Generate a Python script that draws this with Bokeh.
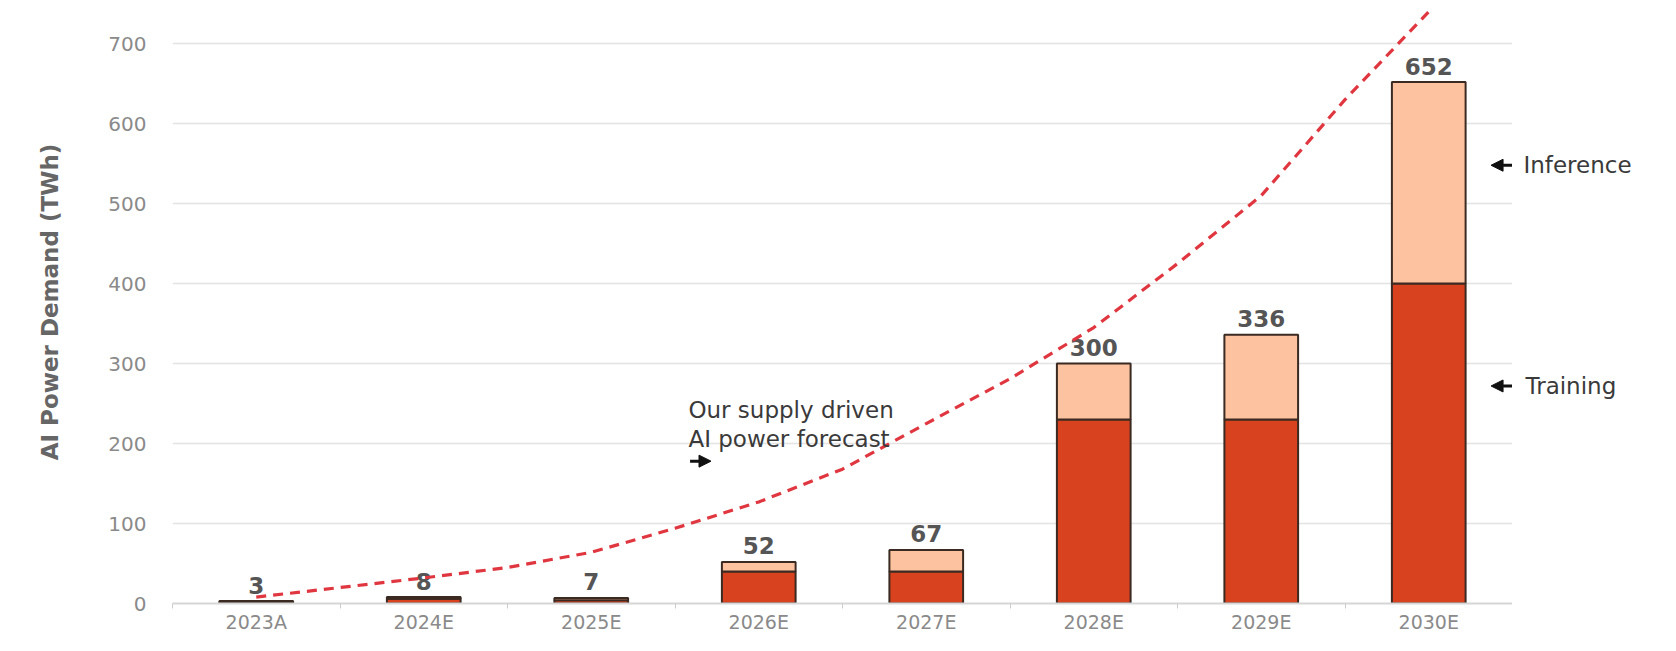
from bokeh.plotting import figure
from bokeh.layouts import row
from bokeh.models import ColumnDataSource, FixedTicker, Range1d, Label, Arrow, NormalHead
from bokeh.embed import file_html
from bokeh.resources import INLINE
from bokeh.core.properties import value

# ---- data ----
categories = ["2023A", "2024E", "2025E", "2026E", "2027E", "2028E", "2029E", "2030E"]
training = [2, 6, 4, 40, 40, 230, 230, 400]
inference = [1, 2, 3, 12, 27, 70, 106, 252]
totals = [3, 8, 7, 52, 67, 300, 336, 652]

# supply-driven forecast curve, read at every half year
forecast_pos = [0, 0.5, 1, 1.5, 2, 2.5, 3, 3.5, 4, 4.5, 5, 5.5, 6, 6.5, 7]
forecast_twh = [8, 20, 32, 45, 64, 94, 127, 168, 225, 281, 345, 425, 510, 630, 740]

y_ticks = [0, 100, 200, 300, 400, 500, 600, 700]

FONT = "DejaVu Sans"
TRAIN_COLOR = "#D8421F"
INFER_COLOR = "#FDC3A0"
EDGE = "#3a2a22"
H = 635
BOTTOM = 31

idx = list(range(len(categories)))
src = ColumnDataSource(dict(
    x=idx,
    training=training,
    total=[t + i for t, i in zip(training, inference)],
    label_y=totals,
    label=[str(v) for v in totals],
))

yr = Range1d(0, 754)
p = figure(width=1512, height=H, output_backend="svg", toolbar_location=None,
           x_range=Range1d(-0.5, 7.5), y_range=yr,
           min_border_left=172, min_border_right=0, min_border_top=0,
           min_border_bottom=BOTTOM)
p.outline_line_color = None

# bars
p.vbar(x="x", width=0.44, bottom=0, top="training", source=src,
       fill_color=TRAIN_COLOR, line_color=EDGE, line_width=2)
p.vbar(x="x", width=0.44, bottom="training", top="total", source=src,
       fill_color=INFER_COLOR, line_color=EDGE, line_width=2)

# totals
p.text(x="x", y="label_y", text="label", source=src,
       text_font=value(FONT), text_font_style="bold", text_font_size="23px",
       text_color="#555555", text_align="center", text_baseline="alphabetic",
       y_offset=-16)

# forecast curve
p.line(forecast_pos, forecast_twh, line_color="#E0363F", line_width=3.2,
       line_dash="10 7")

# axes
p.xgrid.grid_line_color = None
p.ygrid.grid_line_color = "#e3e3e3"
p.ygrid.grid_line_width = 1.5

p.xaxis.ticker = FixedTicker(ticks=idx, minor_ticks=[i - 0.5 for i in range(len(categories) + 1)])
p.xaxis.major_label_overrides = {i: c for i, c in enumerate(categories)}
p.xaxis.axis_line_color = "#d6d6d6"
p.xaxis.axis_line_width = 2
p.xaxis.major_tick_line_color = None
p.xaxis.major_tick_out = 0
p.xaxis.major_tick_in = 0
p.xaxis.minor_tick_line_color = "#cccccc"
p.xaxis.minor_tick_out = 5
p.xaxis.minor_tick_in = 0
p.xaxis.major_label_standoff = 2
p.xaxis.major_label_text_font = FONT
p.xaxis.major_label_text_font_size = "19px"
p.xaxis.major_label_text_color = "#8a8a8a"

p.yaxis.ticker = FixedTicker(ticks=y_ticks)
p.yaxis.axis_line_color = None
p.yaxis.major_tick_line_color = None
p.yaxis.major_tick_out = 0
p.yaxis.major_tick_in = 0
p.yaxis.minor_tick_line_color = None
p.yaxis.major_label_standoff = 26
p.yaxis.major_label_text_font = FONT
p.yaxis.major_label_text_font_size = "20px"
p.yaxis.major_label_text_color = "#8a8a8a"
p.yaxis.axis_label = "AI Power Demand (TWh)"
p.yaxis.axis_label_text_font = FONT
p.yaxis.axis_label_text_font_style = "bold"
p.yaxis.axis_label_text_font_size = "23px"
p.yaxis.axis_label_text_color = "#666666"
p.yaxis.axis_label_standoff = 42

# forecast annotation
ann = dict(text_font=FONT, text_font_size="23px", text_color="#3a3a3a")
p.add_layout(Label(x=2.58, y=242, text="Our supply driven", text_baseline="alphabetic", **ann))
p.add_layout(Label(x=2.58, y=206, text="AI power forecast", text_baseline="alphabetic", **ann))
p.add_layout(Arrow(x_start=2.59, x_end=2.715, y_start=178, y_end=178,
                   line_width=3, line_color="#111111",
                   end=NormalHead(size=12, fill_color="#111111", line_color="#111111")))

# series arrows at the right edge of the plot
for yv in (548, 272):
    p.add_layout(Arrow(x_start=7.5, x_end=7.372, y_start=yv, y_end=yv,
                       line_width=3, line_color="#111111",
                       end=NormalHead(size=12, fill_color="#111111", line_color="#111111")))

# side panel carrying the series names
p2 = figure(width=148, height=H, output_backend="svg", toolbar_location=None,
            x_range=Range1d(0, 148), y_range=yr,
            x_axis_location=None, y_axis_location=None,
            min_border_left=0, min_border_right=0, min_border_top=0,
            min_border_bottom=BOTTOM)
p2.outline_line_color = None
p2.grid.visible = False
p2.add_layout(Label(x=11, y=548, text="Inference", text_baseline="middle", **ann))
p2.add_layout(Label(x=13, y=272, text="Training", text_baseline="middle", **ann))

layout = row(p, p2, spacing=0)
open("out.html", "w").write(file_html(layout, INLINE))
